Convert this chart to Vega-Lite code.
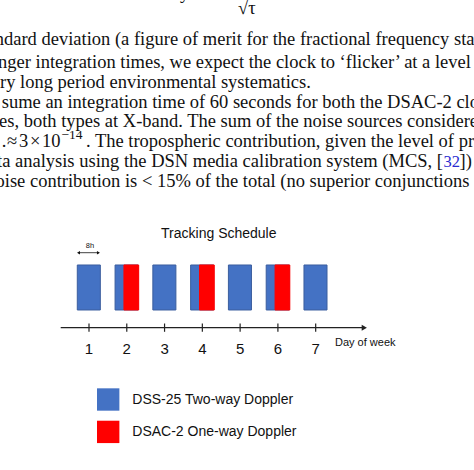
{
  "$schema": "https://vega.github.io/schema/vega-lite/v6.json",
  "width": 474,
  "height": 470,
  "autosize": {"type": "none"},
  "padding": 0,
  "background": "white",
  "config": {"view": {"stroke": null}},
  "data": {"values": [{}]},
  "layer": [
    {
      "data": {"values": [
        {"t": "√τ", "x": 4.9439, "y": 6.5778},
        {"t": "y", "x": 3.4087, "y": 6.9111},
        {"t": "ndard deviation (a figure of merit for the fractional frequency stability", "x": -1.4947, "y": 5.8889},
        {"t": "nger integration times, we expect the clock to ‘flicker’ at a level of", "x": -1.4087, "y": 5.3711},
        {"t": "ry long period environmental systematics.", "x": -1.3557, "y": 4.9333},
        {"t": "sume an integration time of 60 seconds for both the DSAC-2 clock", "x": -1.3107, "y": 4.4956},
        {"t": "es, both types at X-band. The sum of the noise sources considered", "x": -1.3822, "y": 4.0578},
        {"t": ".", "x": -1.3107, "y": 3.62},
        {"t": "≈", "x": -1.1705, "y": 3.62},
        {"t": "3", "x": -0.8528, "y": 3.62},
        {"t": "×", "x": -0.5617, "y": 3.62},
        {"t": "10", "x": -0.244, "y": 3.62},
        {"t": ". The tropospheric contribution, given the level of pre-", "x": 0.9206, "y": 3.62},
        {"t": "])", "x": 10.8067, "y": 3.1822},
        {"t": "oise contribution is < 15% of the total (no superior conjunctions", "x": -1.4748, "y": 2.7444}
      ]},
      "mark": {"type": "text", "align": "left", "baseline": "alphabetic", "font": "Liberation Serif", "fontSize": 18.5, "color": "#111", "clip": true},
      "encoding": {
        "x": {"field": "x", "type": "quantitative", "scale": {"domain": [-1.3557, 11.1905], "nice": false, "zero": false}, "axis": null},
        "y": {"field": "y", "type": "quantitative", "scale": {"domain": [-3.5556, 6.8889], "nice": false, "zero": false}, "axis": null},
        "text": {"field": "t"}
      }
    },
    {
      "data": {"values": [
        {"t": "data analysis using the DSN media calibration system (MCS, [", "x": 10.37, "y": 3.1822}
      ]},
      "mark": {"type": "text", "align": "right", "baseline": "alphabetic", "font": "Liberation Serif", "fontSize": 18.5, "color": "#111", "clip": true},
      "encoding": {
        "x": {"field": "x", "type": "quantitative"},
        "y": {"field": "y", "type": "quantitative"},
        "text": {"field": "t"}
      }
    },
    {
      "data": {"values": [{"t": "−14", "x": 0.2721, "y": 3.8111}]},
      "mark": {"type": "text", "align": "left", "baseline": "alphabetic", "font": "Liberation Serif", "fontSize": 13.5, "color": "#111"},
      "encoding": {
        "x": {"field": "x", "type": "quantitative"},
        "y": {"field": "y", "type": "quantitative"},
        "text": {"field": "t"}
      }
    },
    {
      "data": {"values": [{"t": "32", "x": 10.3832, "y": 3.1822}]},
      "mark": {"type": "text", "align": "left", "baseline": "alphabetic", "font": "Liberation Serif", "fontSize": 16.5, "color": "#2a2ad0"},
      "encoding": {
        "x": {"field": "x", "type": "quantitative"},
        "y": {"field": "y", "type": "quantitative"},
        "text": {"field": "t"}
      }
    },
    {
      "data": {"values": [
        {"series": "DSS-25 Two-way Doppler", "day": 1, "start": 0.69, "end": 1.30},
        {"series": "DSS-25 Two-way Doppler", "day": 2, "start": 1.69, "end": 2.30},
        {"series": "DSS-25 Two-way Doppler", "day": 3, "start": 2.69, "end": 3.30},
        {"series": "DSS-25 Two-way Doppler", "day": 4, "start": 3.69, "end": 4.30},
        {"series": "DSS-25 Two-way Doppler", "day": 5, "start": 4.69, "end": 5.30},
        {"series": "DSS-25 Two-way Doppler", "day": 6, "start": 5.69, "end": 6.30},
        {"series": "DSS-25 Two-way Doppler", "day": 7, "start": 6.69, "end": 7.30},
        {"series": "DSAC-2 One-way Doppler", "day": 2, "start": 1.925, "end": 2.315},
        {"series": "DSAC-2 One-way Doppler", "day": 4, "start": 3.925, "end": 4.315},
        {"series": "DSAC-2 One-way Doppler", "day": 6, "start": 5.925, "end": 6.315}
      ]},
      "mark": {"type": "rect", "strokeWidth": 1, "opacity": 1},
      "encoding": {
        "x": {"field": "start", "type": "quantitative"},
        "x2": {"field": "end"},
        "y": {"datum": 0, "type": "quantitative"},
        "y2": {"datum": 1},
        "color": {
          "field": "series", "type": "nominal",
          "scale": {"domain": ["DSS-25 Two-way Doppler", "DSAC-2 One-way Doppler"], "range": ["#4472C4", "#FF0000"]},
          "legend": {
            "orient": "none", "legendX": 96.7, "legendY": 388, "title": null,
            "symbolType": "square", "symbolSize": 500, "symbolStrokeWidth": 0, "symbolOpacity": 1,
            "labelFont": "Liberation Sans", "labelFontSize": 14, "labelColor": "#111", "labelOffset": 12.6,
            "labelLimit": 400, "rowPadding": 9.4, "padding": 0
          }
        },
        "stroke": {
          "field": "series", "type": "nominal",
          "scale": {"domain": ["DSS-25 Two-way Doppler", "DSAC-2 One-way Doppler"], "range": ["#3B5E9E", "#FF0000"]},
          "legend": null
        }
      }
    },
    {
      "mark": {"type": "rule", "color": "#222", "strokeWidth": 1.3},
      "encoding": {
        "x": {"datum": 0.251, "type": "quantitative"},
        "x2": {"datum": 8.27},
        "y": {"datum": -0.3933, "type": "quantitative"}
      }
    },
    {
      "mark": {"type": "point", "shape": "triangle-right", "filled": true, "size": 36, "color": "#222", "opacity": 1},
      "encoding": {
        "x": {"datum": 8.287, "type": "quantitative"},
        "y": {"datum": -0.3933, "type": "quantitative"}
      }
    },
    {
      "data": {"values": [{"day": 1}, {"day": 2}, {"day": 3}, {"day": 4}, {"day": 5}, {"day": 6}, {"day": 7}]},
      "mark": {"type": "rule", "color": "#222", "strokeWidth": 1.2},
      "encoding": {
        "x": {"field": "day", "type": "quantitative"},
        "y": {"datum": -0.3, "type": "quantitative"},
        "y2": {"datum": -0.4844}
      }
    },
    {
      "data": {"values": [{"day": 1}, {"day": 2}, {"day": 3}, {"day": 4}, {"day": 5}, {"day": 6}, {"day": 7}]},
      "mark": {"type": "text", "align": "center", "baseline": "alphabetic", "font": "Liberation Sans", "fontSize": 15, "color": "#111"},
      "encoding": {
        "x": {"field": "day", "type": "quantitative"},
        "y": {"datum": -0.9778, "type": "quantitative"},
        "text": {"field": "day", "type": "quantitative"}
      }
    },
    {
      "mark": {"type": "text", "text": "Day of week", "align": "left", "baseline": "alphabetic", "font": "Liberation Sans", "fontSize": 11, "color": "#111"},
      "encoding": {
        "x": {"datum": 7.5114, "type": "quantitative"},
        "y": {"datum": -0.7933, "type": "quantitative"}
      }
    },
    {
      "mark": {"type": "text", "text": "Tracking Schedule", "align": "center", "baseline": "alphabetic", "font": "Liberation Sans", "fontSize": 14, "color": "#111"},
      "encoding": {
        "x": {"datum": 4.4357, "type": "quantitative"},
        "y": {"datum": 1.5933, "type": "quantitative"}
      }
    },
    {
      "mark": {"type": "text", "text": "8h", "align": "center", "baseline": "alphabetic", "font": "Liberation Sans", "fontSize": 7.5, "color": "#111"},
      "encoding": {
        "x": {"datum": 1.0265, "type": "quantitative"},
        "y": {"datum": 1.3711, "type": "quantitative"}
      }
    },
    {
      "mark": {"type": "rule", "color": "#111", "strokeWidth": 0.8},
      "encoding": {
        "x": {"datum": 0.715, "type": "quantitative"},
        "x2": {"datum": 1.26},
        "y": {"datum": 1.2733, "type": "quantitative"}
      }
    },
    {
      "mark": {"type": "point", "shape": "triangle-left", "filled": true, "size": 12, "color": "#111", "opacity": 1},
      "encoding": {
        "x": {"datum": 0.722, "type": "quantitative"},
        "y": {"datum": 1.2733, "type": "quantitative"}
      }
    },
    {
      "mark": {"type": "point", "shape": "triangle-right", "filled": true, "size": 12, "color": "#111", "opacity": 1},
      "encoding": {
        "x": {"datum": 1.25, "type": "quantitative"},
        "y": {"datum": 1.2733, "type": "quantitative"}
      }
    }
  ]
}
